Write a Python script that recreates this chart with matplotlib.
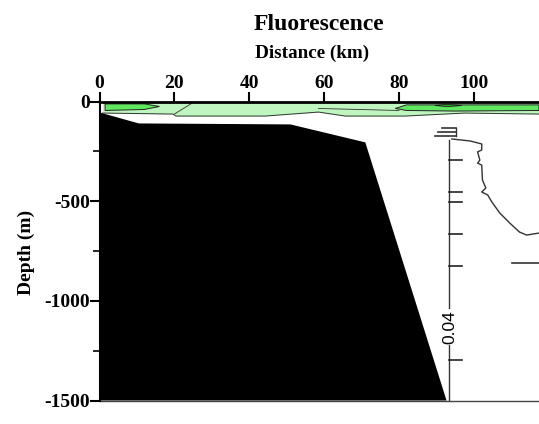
import numpy as np
import matplotlib.pyplot as plt

# bathymetry (km, m)
bathy_km = [0, 10.5, 51, 71, 92.7]
bathy_depth = [-55, -110, -115, -205, -1500]

# surface fluorescence layer
green_km = [0.8, 19.6, 20.4, 44.3, 58.5, 65.6, 81.6, 97.6, 117.4]
green_bottom = [-58, -63, -73, -73, -53, -73, -73, -58, -63]
patch1_km = [1.5, 12, 16, 12, 1.5]
patch1_depth = [-12, -12, -25, -40, -45]
patch2_km = [79, 82, 117.4, 117.4, 95, 82]
patch2_depth = [-35, -17, -17, -45, -48, -45]
patch3_km = [89.6, 93, 96.8, 93]
patch3_depth = [-20, -14, -20, -26]

# fluorescence profile inset
prof_x0 = 93.3
prof_km = [94.1, 99.0, 102.1, 102.1, 101.0, 101.6, 101.0, 102.1, 102.3, 103.2,
           102.1, 103.7, 104.8, 106.9, 109.6, 112.2, 114.1, 117.4]
prof_depth = [-188, -198, -213, -243, -253, -294, -309, -319, -394, -434,
              -454, -469, -504, -559, -610, -655, -670, -660]
prof_ticks = [-294, -454, -504, -665, -825, -1297]
prof_label = "0.04"

xticks = [0, 20, 40, 60, 80, 100]
yticks = [0, -500, -1000, -1500]

plt.rcParams["font.family"] = ["Liberation Serif", "DejaVu Serif"]
plt.rcParams["font.weight"] = "bold"
plt.rcParams["axes.unicode_minus"] = False

fig = plt.figure(figsize=(5.39, 4.24), dpi=100)
ax = fig.add_axes([99.5 / 539, 1 - 400.5 / 424, 1 - 99.5 / 539, (400.5 - 101.5) / 424])
ax.set_xlim(0, 117.4)
ax.set_ylim(-1500, 0)

# green layer
ax.fill_between(green_km, 0, green_bottom, color="#bff5bf", lw=0, zorder=2)
ax.plot(green_km, green_bottom, color="#333333", lw=0.7, zorder=3)
ax.plot([25, 20], [-5, -63], color="#333333", lw=0.6, zorder=3)
ax.plot([58.5, 80], [-35, -45], color="#333333", lw=0.6, zorder=3)
ax.fill(patch1_km, patch1_depth, color="#5fe85f", ec="#222222", lw=0.7, zorder=3)
ax.fill(patch2_km, patch2_depth, color="#5fe85f", ec="#222222", lw=0.7, zorder=3)
ax.fill(patch3_km, patch3_depth, color="#22aa22", ec="#222222", lw=0.6, zorder=4)

# bathymetry
ax.fill(bathy_km + [0], bathy_depth + [-1500], color="black", lw=0, zorder=5)

# profile
ax.plot([prof_x0, prof_x0], [-195, -1500], color="#333333", lw=1.0, zorder=4)
for d in prof_ticks:
    ax.plot([prof_x0, prof_x0 + 3.6], [d, d], color="#222222", lw=1.2, zorder=4)
ax.plot(prof_km, prof_depth, color="#333333", lw=1.0, zorder=4)
for d, x1 in zip([-133, -153, -173], [91.5, 90.5, 89.5]):
    ax.plot([x1, 95.3], [d, d], color="#333333", lw=1.2, zorder=4)
ax.plot([95.3, 95.3], [-133, -173], color="#333333", lw=1.0, zorder=4)
ax.plot([110.1, 117.4], [-808, -808], color="#333333", lw=1.2, zorder=4)
ax.text(prof_x0 + 0.3, -1131, prof_label, rotation=90, ha="center", va="center",
        fontsize=12.5, fontweight="normal", family=["Liberation Sans"],
        bbox=dict(fc="white", ec="none", pad=0.5), zorder=6)

# axes styling
ax.xaxis.tick_top()
ax.set_xticks(xticks)
ax.set_yticks(yticks)
ax.set_yticks([-250, -750, -1250], minor=True)
ax.tick_params(axis="x", direction="out", length=7, width=1.5, pad=0, labelsize=14)
ax.tick_params(axis="y", direction="out", length=7, width=1.5, pad=0, labelsize=14)
ax.tick_params(axis="y", which="minor", direction="out", length=5, width=1.2)
ax.spines["right"].set_visible(False)
ax.spines["top"].set_linewidth(2)
ax.spines["top"].set_zorder(7)
ax.spines["left"].set_linewidth(1.5)
ax.spines["left"].set_zorder(7)
ax.spines["bottom"].set_linewidth(1.0)
ax.spines["bottom"].set_color("#444444")

fig.text(319 / 539, 1 - 25 / 424, "Fluorescence", ha="center", va="center",
         fontsize=17, fontweight="bold")
fig.text(312 / 539, 1 - 53 / 424, "Distance (km)", ha="center", va="center",
         fontsize=13.8, fontweight="bold")
fig.text(26 / 539, 1 - 252 / 424, "Depth (m)", rotation=90, ha="center", va="center",
         fontsize=14, fontweight="bold")

fig.savefig("out.png", dpi=100)
